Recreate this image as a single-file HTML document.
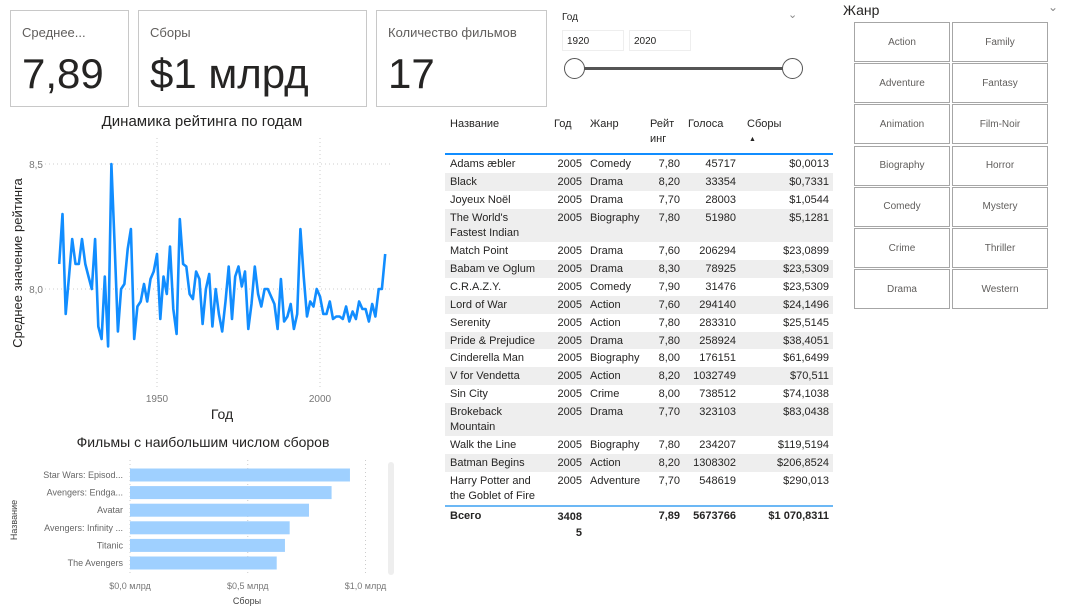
<!DOCTYPE html>
<html><head><meta charset="utf-8">
<style>
*{box-sizing:border-box;margin:0;padding:0}
body{width:1077px;height:608px;background:#fff;font-family:"Liberation Sans","Noto Sans CJK SC",sans-serif;position:relative;overflow:hidden;color:#252423}
.abs{position:absolute}
.card{position:absolute;border:1px solid #c8c8c8;background:#fff}
.card .t{position:absolute;left:11px;top:14px;font-size:13px;color:#605e5c}
.card .v{position:absolute;left:11px;top:42px;font-size:42px;color:#252423;line-height:1}
.btn{position:absolute;width:96px;height:40px;border:1px solid #a6a6a6;font-size:10px;color:#605e5c;display:flex;align-items:center;justify-content:center;background:#fff}
table{border-collapse:collapse;font-size:11px;color:#252423}
td{padding:0 4px;vertical-align:top;line-height:15px}
</style></head><body>
<div class="card" style="left:10px;top:10px;width:119px;height:97px"><div class="t">Среднее...</div><div class="v">7,89</div></div>
<div class="card" style="left:138px;top:10px;width:229px;height:97px"><div class="t">Сборы</div><div class="v">$1 млрд</div></div>
<div class="card" style="left:376px;top:10px;width:171px;height:97px"><div class="t">Количество фильмов</div><div class="v">17</div></div>

<div class="abs" style="left:555px;top:8px;width:250px;height:80px">
<div class="abs" style="left:7px;top:4px;font-size:10px">Год</div>
<div class="abs" style="left:233px;top:0px;font-size:11px;color:#888">&#8964;</div>
<div class="abs" style="left:7px;top:22px;width:62px;height:21px;border:1px solid #eee;font-size:10px;padding:5px 4px">1920</div>
<div class="abs" style="left:74px;top:22px;width:62px;height:21px;border:1px solid #eee;font-size:10px;padding:5px 4px">2020</div>
<div class="abs" style="left:20px;top:59px;width:217px;height:3px;background:#555"></div>
<div class="abs" style="left:9px;top:50px;width:21px;height:21px;border-radius:50%;border:1.5px solid #555;background:#fff"></div>
<div class="abs" style="left:227px;top:50px;width:21px;height:21px;border-radius:50%;border:1.5px solid #555;background:#fff"></div>
</div>

<div class="abs" style="left:843px;top:2px;font-size:14px">Жанр</div>
<div class="abs" style="left:1048px;top:0px;font-size:12px;color:#888">&#8964;</div>
<div id="genres"></div>

<svg class="abs" style="left:0;top:0" width="1077" height="608" id="charts"></svg>

<div class="abs" style="left:445px;top:117px;width:388px">
<table id="tbl" style="width:388px"></table>
</div>

<script>
const years=[];for(let y=1920;y<=2020;y++)years.push(y);
const ratings=[8.10,8.30,7.90,8.05,8.20,8.10,8.10,8.20,8.10,8.05,8.00,8.20,7.85,7.80,8.05,7.77,8.50,8.18,7.83,8.00,8.02,8.16,8.24,7.80,7.93,7.95,8.02,7.95,8.04,8.07,8.14,7.88,8.05,7.98,8.17,7.92,7.82,8.28,8.10,8.09,7.98,7.96,8.07,8.04,7.86,8.00,8.06,7.85,8.00,7.90,7.83,7.95,8.09,7.88,8.05,8.09,8.01,8.07,7.84,7.94,8.09,7.98,7.93,8.00,8.00,7.97,7.94,7.84,8.04,7.87,7.89,7.94,7.84,7.90,8.24,8.05,7.89,7.95,7.93,8.00,7.97,7.90,7.90,7.95,7.88,7.89,7.89,7.88,7.93,7.87,7.91,7.88,7.95,7.92,7.92,7.87,7.94,7.89,8.00,8.00,8.14];
const xTicks=[1950,2000];
const yTicks=[8.0,8.5];
const barNames=["Star Wars: Episod...","Avengers: Endga...","Avatar","Avengers: Infinity ...","Titanic","The Avengers"];
const barValues=[0.934,0.856,0.760,0.678,0.658,0.623];
const barTicks=[0,0.5,1.0];
const barTickLabels=["$0,0 млрд","$0,5 млрд","$1,0 млрд"];
const genres=["Action","Family","Adventure","Fantasy","Animation","Film-Noir","Biography","Horror","Comedy","Mystery","Crime","Thriller","Drama","Western"];

const NS="http://www.w3.org/2000/svg";
const svg=document.getElementById('charts');
function mk(tag,attrs,parent){const e=document.createElementNS(NS,tag);for(const k in attrs)e.setAttribute(k,attrs[k]);(parent||svg).appendChild(e);return e;}
function txt(s,attrs){const e=mk('text',attrs);e.textContent=s;return e;}

const lx=y=>157+(y-1950)*(320-157)/50;
const ly=v=>289-(v-8.0)*250;
txt("Динамика рейтинга по годам",{x:202,y:126,'text-anchor':'middle','font-size':15,fill:'#252423',});
yTicks.forEach(t=>{
 const g=mk('line',{x1:45,x2:392,y1:ly(t),y2:ly(t),stroke:'#ccc','stroke-dasharray':'1,3'});
 
 const l=txt(t.toFixed(1).replace('.',','),{x:43,y:ly(t)+4,'text-anchor':'end','font-size':10,fill:'#777'});
 
});
xTicks.forEach(t=>{
 const g=mk('line',{x1:lx(t),x2:lx(t),y1:138,y2:388,stroke:'#ccc','stroke-dasharray':'1,3'});
 
 const l=txt(String(t),{x:lx(t),y:402,'text-anchor':'middle','font-size':10,fill:'#777'});
 
});
txt("Год",{x:222,y:419,'text-anchor':'middle','font-size':14,fill:'#252423',});
txt("Среднее значение рейтинга",{x:0,y:0,transform:'translate(22,263) rotate(-90)','text-anchor':'middle','font-size':13,fill:'#252423',});
const path=mk('path',{d:ratings.map((v,i)=>(i?'L':'M')+lx(years[i]).toFixed(1)+','+ly(v).toFixed(1)).join(''),fill:'none',stroke:'#118DFF','stroke-width':2.6,'stroke-linejoin':'round'});


const bx=v=>130+v*235.5;
txt("Фильмы с наибольшим числом сборов",{x:203,y:447,'text-anchor':'middle','font-size':14,fill:'#252423',});
barTicks.forEach((t,i)=>{
 const g=mk('line',{x1:bx(t),x2:bx(t),y1:460,y2:575,stroke:'#ccc','stroke-dasharray':'1,3'});
 
 const l=txt(barTickLabels[i],{x:bx(t),y:589,'text-anchor':'middle','font-size':9,fill:'#777'});
 
});
barNames.forEach((n,i)=>{
 const cy=475+i*17.6;
 const r=mk('rect',{x:130,y:cy-6.5,width:bx(barValues[i])-130,height:13,fill:'#9fd0ff'});
 
 const l=txt(n,{x:123,y:cy+3,'text-anchor':'end','font-size':9,fill:'#666'});
 
});
txt("Сборы",{x:247,y:604,'text-anchor':'middle','font-size':9,fill:'#444',});
txt("Название",{x:0,y:0,transform:'translate(17,520) rotate(-90)','text-anchor':'middle','font-size':9,fill:'#444',});
mk('rect',{x:388,y:462,width:6,height:113,rx:3,fill:'#eee',});

const gd=document.getElementById('genres');
genres.forEach((g,i)=>{
 const b=document.createElement('div');b.className='btn';
 
 
 b.style.left=(854+(i%2)*98)+'px';b.style.top=(22+Math.floor(i/2)*41.2)+'px';
 b.textContent=g;gd.appendChild(b);
});

const rows=[["Adams æbler","2005","Comedy","7,80","45717","$0,0013"],["Black","2005","Drama","8,20","33354","$0,7331"],["Joyeux Noël","2005","Drama","7,70","28003","$1,0544"],["The World's<br>Fastest Indian","2005","Biography","7,80","51980","$5,1281"],["Match Point","2005","Drama","7,60","206294","$23,0899"],["Babam ve Oglum","2005","Drama","8,30","78925","$23,5309"],["C.R.A.Z.Y.","2005","Comedy","7,90","31476","$23,5309"],["Lord of War","2005","Action","7,60","294140","$24,1496"],["Serenity","2005","Action","7,80","283310","$25,5145"],["Pride &amp; Prejudice","2005","Drama","7,80","258924","$38,4051"],["Cinderella Man","2005","Biography","8,00","176151","$61,6499"],["V for Vendetta","2005","Action","8,20","1032749","$70,511"],["Sin City","2005","Crime","8,00","738512","$74,1038"],["Brokeback<br>Mountain","2005","Drama","7,70","323103","$83,0438"],["Walk the Line","2005","Biography","7,80","234207","$119,5194"],["Batman Begins","2005","Action","8,20","1308302","$206,8524"],["Harry Potter and<br>the Goblet of Fire","2005","Adventure","7,70","548619","$290,013"]];
let h='<tr style="height:36px"><td style="padding-left:5px;width:105px">Название</td><td style="width:36px">Год</td><td style="width:60px">Жанр</td><td style="width:38px">Рейт<br>инг</td><td style="width:56px">Голоса</td><td style="text-align:left;padding-left:7px">Сборы<div style="font-size:7px;padding-left:2px">&#9650;</div></td></tr>';
h+='<tr><td colspan="6" style="height:2px;padding:0;background:#118DFF;line-height:1px"></td></tr>';
rows.forEach((r,i)=>{
 const two=r[0].includes('<br>');
 h+='<tr style="background:'+(i%2?'#eeeeee':'#fff')+';height:'+(two?'33px':'17.95px')+'"><td style="padding-left:5px;padding-top:2px">'+r[0]+'</td><td style="text-align:right;padding-top:2px">'+r[1]+'</td><td style="padding-top:2px">'+r[2]+'</td><td style="text-align:right;padding-top:2px">'+r[3]+'</td><td style="text-align:right;padding-top:2px">'+r[4]+'</td><td style="text-align:right;padding-top:2px">'+r[5]+'</td></tr>';
});
h+='<tr><td colspan="6" style="height:2px;padding:0;background:#6cb8f5;line-height:1px"></td></tr>';
h+='<tr style="font-weight:bold"><td style="padding-left:5px;padding-top:2px">Всего</td><td style="text-align:right;padding-top:2px;line-height:16px">3408<br>5</td><td></td><td style="text-align:right;padding-top:2px">7,89</td><td style="text-align:right;padding-top:2px">5673766</td><td style="text-align:right;padding-top:2px">$1 070,8311</td></tr>';
document.getElementById('tbl').innerHTML=h;
</script>
</body></html>
